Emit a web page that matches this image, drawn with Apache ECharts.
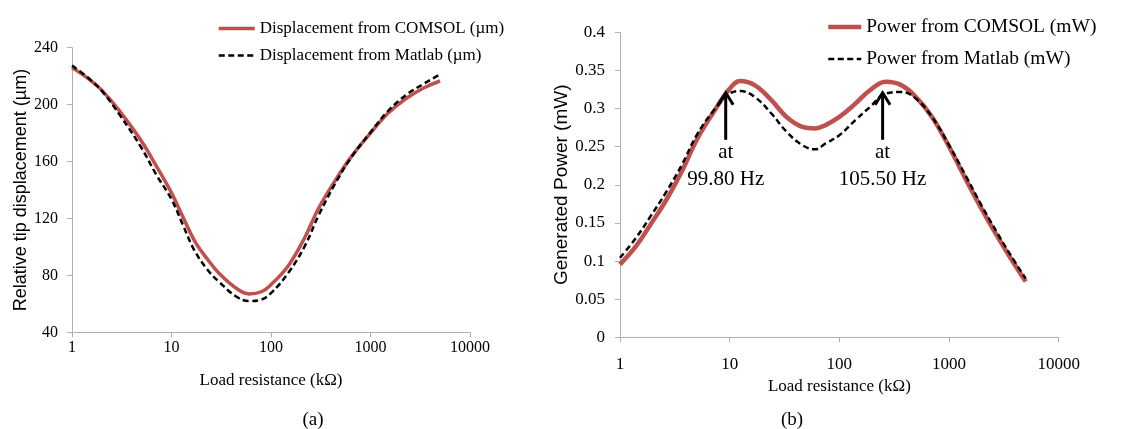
<!DOCTYPE html>
<html>
<head>
<meta charset="utf-8">
<script src="https://cdn.jsdelivr.net/npm/echarts@6/dist/echarts.min.js"></script>
<style>
  html, body { margin: 0; padding: 0; background: #fff; }
  #chart { width: 1128px; height: 429px; }
</style>
</head>
<body>
<div id="chart"></div>
<script>
// Load resistance samples (kOhm) for the displacement panel
const dispResistance = [1, 1.5, 2, 3, 5, 7, 10, 13, 17, 23, 30, 45, 60, 80, 100, 150, 220, 300, 450, 650, 1000, 1500, 2300, 3500, 5000];
// Relative tip displacement (um)
const dispComsol = [226, 217.6, 210, 195.6, 174.3, 157.1, 138, 121.2, 104.5, 91.3, 81.5, 70.8, 67, 68.5, 73.5, 87, 107, 127, 147.5, 164, 180, 194, 204.5, 212, 216.6];
const dispMatlab = [227.5, 218, 209.5, 193, 169.5, 151, 133.5, 115.5, 97.5, 84, 75.5, 65, 62, 63, 67.5, 82, 101, 122, 145.5, 163.5, 180.5, 195.5, 207, 215, 221.3];

// Load resistance samples (kOhm) for the power panel
const powResistance = [1, 1.4, 1.9, 2.65, 3.66, 5, 7, 10, 12.5, 17, 24, 33, 46, 60, 75, 100, 140, 190, 265, 370, 500, 700, 1000, 1430, 2000, 2750, 3600, 5000];
// Generated power (mW)
const powComsol = [0.0957, 0.1196, 0.148, 0.1804, 0.2174, 0.2587, 0.2935, 0.326, 0.336, 0.3304, 0.311, 0.289, 0.276, 0.274, 0.2783, 0.289, 0.3065, 0.324, 0.335, 0.3304, 0.315, 0.289, 0.250, 0.2065, 0.1674, 0.1326, 0.105, 0.073];
const powMatlab = [0.1043, 0.1304, 0.1587, 0.191, 0.226, 0.265, 0.2957, 0.3196, 0.323, 0.315, 0.2935, 0.2696, 0.252, 0.2465, 0.2543, 0.265, 0.2848, 0.302, 0.3196, 0.3217, 0.313, 0.289, 0.252, 0.211, 0.1717, 0.137, 0.109, 0.077];

// Peak annotations: resistance, arrow bottom, arrow top, caption lines
const peakResistance = [9.2, 248];
const arrowFrom = [0.259, 0.259];
const arrowTo = [0.322, 0.322];
const peakCaption = [['at', '99.80 Hz'], ['at', '105.50 Hz']];

const SERIF = '"Liberation Serif", "Times New Roman", serif';
const SANS = '"Liberation Sans", Arial, sans-serif';
const RED = '#c0504d';
const AXIS_GREY = '#b0b0b0';

function zip(xs, ys) { return xs.map((x, i) => [x, ys[i]]); }

function xAxisCfg(gridIndex, labelSize, labelMargin, nameSize, nameGap) {
  return {
    gridIndex, type: 'log', logBase: 10, min: 1, max: 10000,
    name: 'Load resistance (kΩ)', nameLocation: 'middle', nameGap,
    nameTextStyle: { fontFamily: SERIF, fontSize: nameSize, color: '#000' },
    axisLine: { lineStyle: { color: AXIS_GREY, width: 1 } },
    axisTick: { show: true, length: 5, lineStyle: { color: AXIS_GREY } },
    minorTick: { show: false },
    splitLine: { show: false },
    axisLabel: { fontFamily: SERIF, fontSize: labelSize, color: '#000', margin: labelMargin,
                 formatter: v => String(v) }
  };
}

function yAxisCfg(gridIndex, min, max, interval, name, nameSize, nameGap, labelSize, labelMargin) {
  return {
    gridIndex, type: 'value', min, max, interval,
    name, nameLocation: 'middle', nameGap,
    nameTextStyle: { fontFamily: SANS, fontSize: nameSize, color: '#000' },
    axisLine: { show: true, lineStyle: { color: AXIS_GREY } },
    axisTick: { show: true, length: 5, lineStyle: { color: AXIS_GREY } },
    splitLine: { show: false },
    axisLabel: { fontFamily: SERIF, fontSize: labelSize, color: '#000', margin: labelMargin }
  };
}

// Legend entries: solid red for COMSOL, dashed black for Matlab
function legendItems(names, redWidth) {
  return [
    { name: names[0], lineStyle: { color: RED, width: redWidth } },
    { name: names[1], lineStyle: { color: '#000', width: 2.5, type: [6, 3.5] } }
  ];
}

const chart = echarts.init(document.getElementById('chart'), null, { renderer: 'canvas' });

chart.setOption({
  backgroundColor: '#fff',
  animation: false,
  title: [
    { text: '(a)', left: 308, top: 406, textAlign: 'center',
      textStyle: { fontFamily: SERIF, fontSize: 19, fontWeight: 'normal', color: '#000' } },
    { text: '(b)', left: 787, top: 406, textAlign: 'center',
      textStyle: { fontFamily: SERIF, fontSize: 19, fontWeight: 'normal', color: '#000' } }
  ],
  legend: [
    { orient: 'vertical', left: 212, top: 15, itemWidth: 36, itemHeight: 14, itemGap: 10,
      itemStyle: { opacity: 0 },
      data: legendItems(['Displacement from COMSOL (µm)', 'Displacement from Matlab (µm)'], 3.5),
      textStyle: { fontFamily: SERIF, fontSize: 17, color: '#000' } },
    { orient: 'vertical', left: 821, top: 12, itemWidth: 33, itemHeight: 14, itemGap: 12,
      itemStyle: { opacity: 0 },
      data: legendItems(['Power from COMSOL (mW)', 'Power from Matlab (mW)'], 4.5),
      textStyle: { fontFamily: SERIF, fontSize: 19.5, color: '#000' } }
  ],
  grid: [
    { left: 72, right: 658, top: 47.7, bottom: 96.7 },
    { left: 620, right: 69.3, top: 32.3, bottom: 91.7 }
  ],
  xAxis: [xAxisCfg(0, 16, 7, 17, 40), xAxisCfg(1, 17, 19, 17, 31)],
  yAxis: [
    yAxisCfg(0, 40, 240, 40, 'Relative tip displacement (µm)', 18, 40, 16, 14),
    yAxisCfg(1, 0, 0.4, 0.05, 'Generated Power (mW)', 19, 45, 17, 15)
  ],
  series: [
    { name: 'Displacement from COMSOL (µm)', type: 'line', xAxisIndex: 0, yAxisIndex: 0,
      data: zip(dispResistance, dispComsol), smooth: 0.4, symbol: 'none',
      lineStyle: { color: RED, width: 3.5 }, itemStyle: { color: RED }, z: 2 },
    { name: 'Displacement from Matlab (µm)', type: 'line', xAxisIndex: 0, yAxisIndex: 0,
      data: zip(dispResistance, dispMatlab), smooth: 0.4, symbol: 'none',
      lineStyle: { color: '#000', width: 2.5, type: [6, 3.5] }, itemStyle: { color: '#000' }, z: 3 },
    { name: 'Power from COMSOL (mW)', type: 'line', xAxisIndex: 1, yAxisIndex: 1,
      data: zip(powResistance, powComsol), smooth: 0.4, symbol: 'none',
      lineStyle: { color: RED, width: 4.5 }, itemStyle: { color: RED }, z: 2 },
    { name: 'Power from Matlab (mW)', type: 'line', xAxisIndex: 1, yAxisIndex: 1,
      data: zip(powResistance, powMatlab), smooth: 0.4, symbol: 'none',
      lineStyle: { color: '#000', width: 2.5, type: [6, 3.5] }, itemStyle: { color: '#000' }, z: 3 },
    { type: 'custom', xAxisIndex: 1, yAxisIndex: 1, z: 5, silent: true,
      data: peakResistance.map((x, i) => [x, arrowFrom[i], arrowTo[i], i]),
      renderItem: function (params, api) {
        const x = api.value(0);
        const bottom = api.coord([x, api.value(1)]);
        const tip = api.coord([x, api.value(2)]);
        const lines = peakCaption[api.value(3)];
        return {
          type: 'group',
          children: [
            { type: 'line', shape: { x1: bottom[0], y1: bottom[1], x2: tip[0], y2: tip[1] + 1 },
              style: { stroke: '#000', lineWidth: 3 } },
            { type: 'polyline', shape: { points: [[tip[0] - 7.5, tip[1] + 13], [tip[0], tip[1] + 1], [tip[0] + 7.5, tip[1] + 13]] },
              style: { stroke: '#000', lineWidth: 3, fill: null } },
            { type: 'text', x: tip[0], y: bottom[1] - 1,
              style: { text: lines.join('\n'), fontFamily: SERIF, fontSize: 21, lineHeight: 27,
                       fill: '#000', align: 'center', verticalAlign: 'top' } }
          ]
        };
      }
    }
  ]
});
</script>
</body>
</html>
